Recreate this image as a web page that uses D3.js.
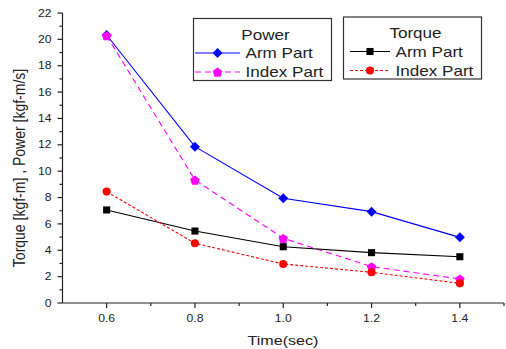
<!DOCTYPE html>
<html>
<head>
<meta charset="utf-8">
<script src="https://cdn.jsdelivr.net/npm/d3@7"></script>
<style>
  body { margin: 0; background: #fff; }
  svg { display: block; font-family: "Liberation Sans", Arial, sans-serif; }
</style>
</head>
<body>
<svg id="chart" width="506" height="349"></svg>
<script>
// values
const times = [0.6, 0.8, 1.0, 1.2, 1.4];
const powerArm = [20.33, 11.86, 7.94, 6.93, 4.98];
const powerIndex = [20.28, 9.33, 4.91, 2.76, 1.82];
const torqueArm = [7.06, 5.46, 4.27, 3.82, 3.51];
const torqueIndex = [8.45, 4.53, 2.96, 2.33, 1.49];

const xMajorTicks = [0.6, 0.8, 1.0, 1.2, 1.4];
const xMinorTicks = [0.7, 0.9, 1.1, 1.3, 1.5];
const yMajorTicks = [0, 2, 4, 6, 8, 10, 12, 14, 16, 18, 20, 22];
const yMinorTicks = [1, 3, 5, 7, 9, 11, 13, 15, 17, 19, 21];

const W = 506, H = 349;
const margin = {left: 62.5, right: 2, top: 13, bottom: 46};
const STRETCH = 1.22; // the original glyphs are drawn wide

const svg = d3.select('#chart');

const x = d3.scaleLinear()
  .domain([0.5, 1.5])
  .range([margin.left, W - margin.right]);
const y = d3.scaleLinear()
  .domain([0, 22])
  .range([H - margin.bottom, margin.top]);

// text helper: stretched horizontally around its anchor point
function label(g, px, py, str, size, anchor) {
    return g.append('text')
      .attr('transform', `translate(${px},${py}) scale(${STRETCH},1)`)
      .attr('text-anchor', anchor || 'start')
      .attr('font-size', size)
      .attr('fill', '#222')
      .text(str);
}

// axes
const axisG = svg.append('g').attr('stroke', '#222').attr('stroke-width', 1.2);
axisG.append('line')
  .attr('x1', x(0.5)).attr('x2', x(1.5))
  .attr('y1', y(0)).attr('y2', y(0));
axisG.append('line')
  .attr('x1', x(0.5)).attr('x2', x(0.5))
  .attr('y1', y(0)).attr('y2', y(22));

axisG.selectAll('.xmaj').data(xMajorTicks).join('line')
  .attr('x1', d => x(d)).attr('x2', d => x(d))
  .attr('y1', y(0)).attr('y2', y(0) + 5);
axisG.selectAll('.xmin').data(xMinorTicks).join('line')
  .attr('x1', d => x(d)).attr('x2', d => x(d))
  .attr('y1', y(0)).attr('y2', y(0) + 3);
axisG.selectAll('.ymaj').data(yMajorTicks).join('line')
  .attr('x1', x(0.5) - 5).attr('x2', x(0.5))
  .attr('y1', d => y(d)).attr('y2', d => y(d));
axisG.selectAll('.ymin').data(yMinorTicks).join('line')
  .attr('x1', x(0.5) - 3).attr('x2', x(0.5))
  .attr('y1', d => y(d)).attr('y2', d => y(d));

const labG = svg.append('g');
xMajorTicks.forEach(t => label(labG, x(t), y(0) + 19, d3.format('.1f')(t), 10, 'middle'));
yMajorTicks.forEach(t => label(labG, x(0.5) - 11, y(t) + 3.6, String(t), 10, 'end'));

label(labG, 283, 345, 'Time(sec)', 13.2, 'middle');
labG.append('text')
  .attr('transform', `translate(25,168) scale(${STRETCH},1) rotate(-90)`)
  .attr('text-anchor', 'middle')
  .attr('font-size', 14)
  .attr('fill', '#222')
  .text('Torque [kgf-m] , Power [kgf-m/s]');

// series
const series = [
    {name: 'Arm Part', values: powerArm, color: '#0000ff', dash: null, marker: 'diamond'},
    {name: 'Index Part', values: powerIndex, color: '#ff00ff', dash: '6,4', marker: 'pentagon'},
    {name: 'Arm Part', values: torqueArm, color: '#000000', dash: null, marker: 'square'},
    {name: 'Index Part', values: torqueIndex, color: '#ff0000', dash: '3,2', marker: 'circle'},
];

function polygonPath(n, r, rot, dy) {
    const pts = d3.range(n).map(i => {
        const a = rot + i * 2 * Math.PI / n;
        return [r * Math.cos(a), r * Math.sin(a) + dy];
    });
    return 'M' + pts.map(p => p.join(',')).join('L') + 'Z';
}

const markerPaths = {
    diamond: polygonPath(4, 5, -Math.PI / 2, 0),
    pentagon: polygonPath(5, 5, -Math.PI / 2, 0.6),
    square: d3.symbol().type(d3.symbolSquare).size(50)(),
    circle: d3.symbol().type(d3.symbolCircle).size(52)(),
};

function drawMarker(g, kind, cx, cy, color) {
    g.append('path')
      .attr('d', markerPaths[kind])
      .attr('transform', `translate(${cx},${cy})`)
      .attr('fill', color);
}

const line = d3.line().x(d => x(d[0])).y(d => y(d[1]));
const plotG = svg.append('g');
series.forEach(s => {
    const pts = times.map((t, i) => [t, s.values[i]]);
    plotG.append('path')
      .datum(pts)
      .attr('d', line)
      .attr('fill', 'none')
      .attr('stroke', s.color)
      .attr('stroke-width', 1.1)
      .attr('stroke-dasharray', s.dash);
    pts.forEach(p => drawMarker(plotG, s.marker, x(p[0]), y(p[1]), s.color));
});

// legends
function legend(bx, by, bw, bh, title, items, lineX0, lineX1, textX) {
    const g = svg.append('g');
    g.append('rect')
      .attr('x', bx).attr('y', by).attr('width', bw).attr('height', bh)
      .attr('fill', '#fff').attr('stroke', '#333').attr('stroke-width', 1.2);
    label(g, bx + bw / 2 + 3, by + 21, title, 14, 'middle');
    items.forEach((s, i) => {
        const ly = by + 34.5 + i * 19;
        g.append('line')
          .attr('x1', lineX0).attr('x2', lineX1)
          .attr('y1', ly).attr('y2', ly)
          .attr('stroke', s.color).attr('stroke-width', 1.1)
          .attr('stroke-dasharray', s.dash);
        drawMarker(g, s.marker, (lineX0 + lineX1) / 2, ly, s.color);
        label(g, textX, ly + 5, s.name, 14, 'start');
    });
}

legend(193.5, 18.5, 138, 62, 'Power', series.slice(0, 2), 195, 240, 245.5);
legend(343.5, 17, 138, 62, 'Torque', series.slice(2, 4), 350, 390, 395.5);
</script>
</body>
</html>
